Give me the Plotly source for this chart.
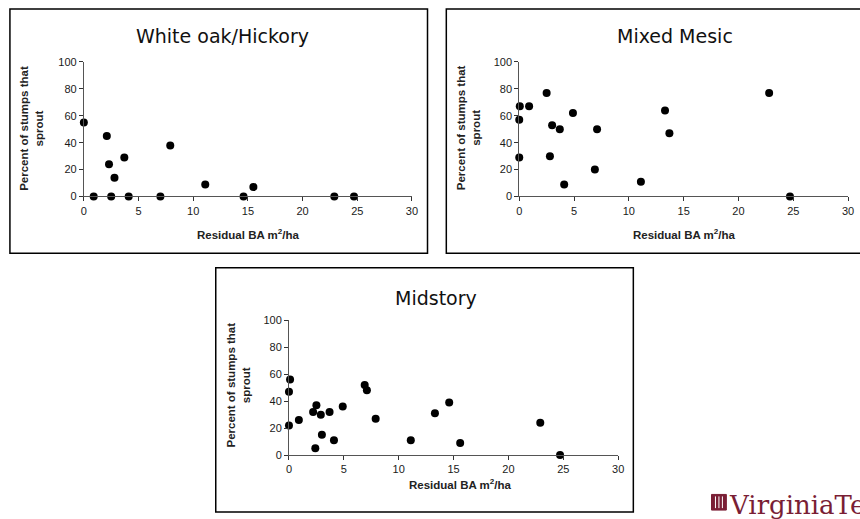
import plotly.graph_objects as go

W, H = 860, 519

# Residual basal area (m2/ha) and percent of stumps that sprout, by stand type
wo_ba = [0.0, 0.9, 2.1, 2.3, 2.5, 2.8, 3.7, 4.1, 7.0, 7.9, 11.1, 14.6, 15.5, 22.9, 24.7]
wo_pct = [55, 0, 45, 24, 0, 14, 29, 0, 0, 38, 9, 0, 7, 0, 0]

mm_ba = [0.0, 0.0, 0.05, 0.9, 2.5, 2.8, 3.0, 3.7, 4.1, 4.9, 6.9, 7.1, 11.1, 13.3, 13.7, 22.8, 24.7]
mm_pct = [29, 57, 67, 67, 77, 30, 53, 50, 9, 62, 20, 50, 11, 64, 47, 77, 0]

ms_ba = [0.0, 0.0, 0.1, 0.9, 2.2, 2.4, 2.5, 2.9, 3.0, 3.7, 4.1, 4.9, 6.9, 7.1, 7.9,
         11.1, 13.3, 14.6, 15.6, 22.9, 24.7]
ms_pct = [22, 47, 56, 26, 32, 5, 37, 30, 15, 32, 11, 36, 52, 48, 27,
          11, 31, 39, 9, 24, 0]

x_ticks = [0, 5, 10, 15, 20, 25, 30]
y_ticks = [0, 20, 40, 60, 80, 100]

titles = ["White oak/Hickory", "Mixed Mesic", "Midstory"]
x_title = "Residual BA m<sup>2</sup>/ha"
y_title = "Percent of stumps that<br>sprout"


def px(x):
    return x / W


def py(y):
    return 1 - y / H


# Layout boxes in pixels: plot area (left, right, bottom, top), frame, title centre
panels = [
    dict(ba=wo_ba, pct=wo_pct, plot=(81.7, 413.3, 195, 57.3), frame=(7, 429, 253, 3),
         title=(222, 31), ytitle=(28, 125), xtitle=(248, 233)),
    dict(ba=mm_ba, pct=mm_pct, plot=(521.7, 854, 195, 57.3), frame=(448, 880, 253, 3),
         title=(679, 31), ytitle=(470, 125), xtitle=(688, 233)),
    dict(ba=ms_ba, pct=ms_pct, plot=(289, 621.7, 459.7, 321.7), frame=(215, 637, 518, 268),
         title=(438, 299), ytitle=(238, 388), xtitle=(462, 489)),
]

fig = go.Figure()
annotations = []
shapes = []

for i, (p, title) in enumerate(zip(panels, titles)):
    n = "" if i == 0 else str(i + 1)
    xa, ya = "x" + n, "y" + n
    fig.add_trace(go.Scatter(
        x=p["ba"], y=p["pct"], mode="markers", xaxis=xa, yaxis=ya,
        marker=dict(color="black", size=8), cliponaxis=False, showlegend=False,
    ))
    l, r, b, t = p["plot"]
    axis_common = dict(
        showgrid=False, zeroline=False, showline=True, linecolor="#555555", linewidth=1,
        ticks="outside", ticklen=4, tickcolor="#333333", tickwidth=1,
        tickfont=dict(family="Liberation Sans, Arial", size=11, color="#1a1a1a"),
    )
    fig.update_layout({
        "xaxis" + n: dict(domain=[px(l), px(r)], range=[0, 30], tickvals=x_ticks,
                          anchor=ya, **axis_common),
        "yaxis" + n: dict(domain=[py(b), py(t)], range=[0, 100], tickvals=y_ticks,
                          anchor=xa, **axis_common),
    })
    fl, fr, fb, ft = p["frame"]
    shapes.append(dict(type="rect", xref="paper", yref="paper",
                       x0=px(fl), x1=px(fr), y0=py(fb), y1=py(ft),
                       line=dict(color="black", width=1.5)))
    annotations.append(dict(text=title, x=px(p["title"][0]), y=py(p["title"][1]),
                            xref="paper", yref="paper", showarrow=False,
                            xanchor="center", yanchor="middle",
                            font=dict(family="DejaVu Sans", size=19, color="#111111")))
    annotations.append(dict(text="<b>" + y_title + "</b>", x=px(p["ytitle"][0]),
                            y=py(p["ytitle"][1]), xref="paper", yref="paper",
                            showarrow=False, textangle=-90, xanchor="center",
                            yanchor="middle",
                            font=dict(family="Liberation Sans, Arial", size=11.5,
                                      color="#222222")))
    annotations.append(dict(text="<b>" + x_title + "</b>", x=px(p["xtitle"][0]),
                            y=py(p["xtitle"][1]), xref="paper", yref="paper",
                            showarrow=False, xanchor="center", yanchor="middle",
                            font=dict(family="Liberation Sans, Arial", size=11.5,
                                      color="#222222")))

# University wordmark in the lower right corner, running off the page edge
maroon = "#7a1e35"
shapes.append(dict(type="rect", xref="paper", yref="paper",
                   x0=px(716), x1=px(731), y0=py(516), y1=py(500),
                   line=dict(color=maroon, width=1), fillcolor=maroon))
for xv in (720, 723.5, 727):
    shapes.append(dict(type="line", xref="paper", yref="paper",
                       x0=px(xv), x1=px(xv), y0=py(514), y1=py(502),
                       line=dict(color="white", width=1)))
annotations.append(dict(text="VirginiaTech", x=px(732), y=py(528), xref="paper",
                        yref="paper", showarrow=False, xanchor="left", yanchor="bottom",
                        font=dict(family="DejaVu Serif", size=26, color=maroon)))

fig.update_layout(width=W, height=H, margin=dict(l=0, r=0, t=0, b=0),
                  paper_bgcolor="white", plot_bgcolor="white",
                  annotations=annotations, shapes=shapes)

fig.write_html("out.html")
